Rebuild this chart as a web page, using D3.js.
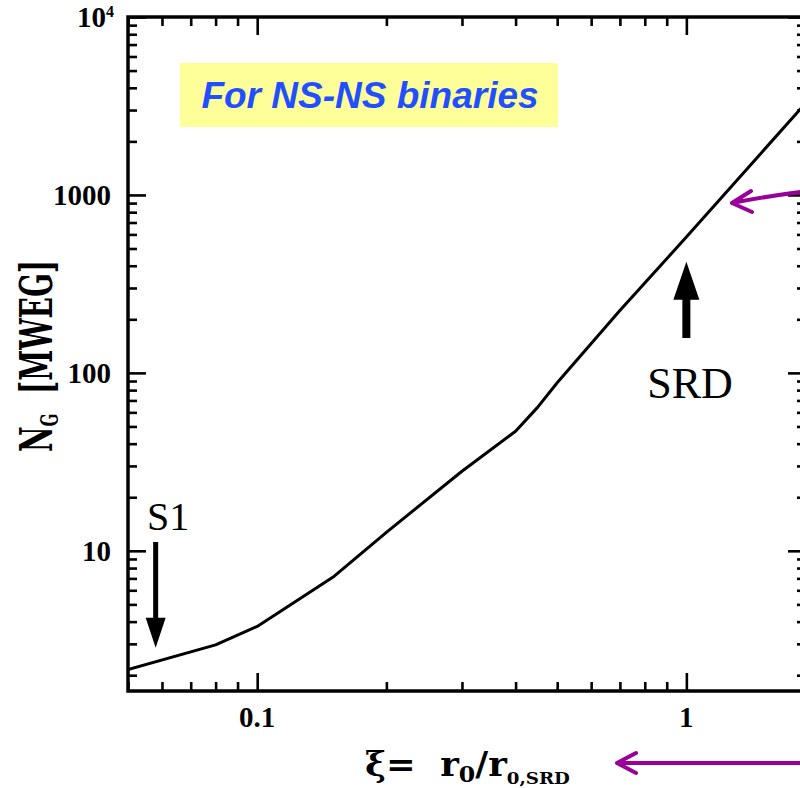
<!DOCTYPE html>
<html>
<head>
<meta charset="utf-8">
<script src="https://cdn.jsdelivr.net/npm/d3@7"></script>
<style>
  body { margin: 0; background: #fff; }
  svg { display: block; }
</style>
</head>
<body>
<div id="canvas"></div>
<script>
"use strict"

/* Data */
let xiValues = [0.05, 0.08, 0.1, 0.15, 0.2, 0.3, 0.4, 0.45, 0.5, 0.7, 1, 1.5, 1.9];
let ngValues = [2.15, 2.96, 3.76, 7.1, 12.7, 28, 47, 64, 88, 224, 580, 1740, 3300];
let xTickValues = [0.1, 1];
let xTickLabels = ["0.1", "1"];
let yTickValues = [10, 100, 1000, 10000];
let yTickLabels = ["10", "100", "1000", "10"];

/* Configuration: drawing */
let svgWidth = 800;
let svgHeight = 788;
let plotLeft = 128, plotRight = 806, plotTop = 17, plotBottom = 691;
let majorLen = 18, minorLen = 9;

let svg = d3.select("#canvas")
    .append("svg")
    .attr("width", svgWidth)
    .attr("height", svgHeight);

let xScale = d3.scaleLog()
    .domain([0.05, 1.9])
    .range([plotLeft, plotRight]);

let yScale = d3.scaleLog()
    .domain([1.63, 10000])
    .range([plotBottom, plotTop]);

let xMinor = xScale.ticks().filter(d => xTickValues.indexOf(d) < 0);
let yMinor = yScale.ticks().filter(d => yTickValues.indexOf(d) < 0);

/* Ticks on all four sides, pointing inward */
function drawTicks(axis, tx, ty) {
    svg.append("g")
        .attr("transform", "translate(" + tx + "," + ty + ")")
        .call(axis.tickFormat(""))
        .call(g => g.select(".domain").remove())
        .call(g => g.selectAll("line").attr("stroke", "black").attr("stroke-width", 2.6));
}

drawTicks(d3.axisTop(xScale).tickValues(xTickValues).tickSize(majorLen), 0, plotBottom);
drawTicks(d3.axisTop(xScale).tickValues(xMinor).tickSize(minorLen), 0, plotBottom);
drawTicks(d3.axisBottom(xScale).tickValues(xTickValues).tickSize(majorLen), 0, plotTop);
drawTicks(d3.axisBottom(xScale).tickValues(xMinor).tickSize(minorLen), 0, plotTop);
drawTicks(d3.axisRight(yScale).tickValues(yTickValues).tickSize(majorLen), plotLeft, 0);
drawTicks(d3.axisRight(yScale).tickValues(yMinor).tickSize(minorLen), plotLeft, 0);
drawTicks(d3.axisLeft(yScale).tickValues(yTickValues).tickSize(majorLen), plotRight, 0);
drawTicks(d3.axisLeft(yScale).tickValues(yMinor).tickSize(minorLen), plotRight, 0);

/* Frame */
svg.append("rect")
    .attr("x", plotLeft)
    .attr("y", plotTop)
    .attr("width", plotRight - plotLeft)
    .attr("height", plotBottom - plotTop)
    .attr("fill", "none")
    .attr("stroke", "black")
    .attr("stroke-width", 3.5);

/* Curve */
svg.append("clipPath")
    .attr("id", "plotclip")
    .append("rect")
    .attr("x", plotLeft).attr("y", plotTop)
    .attr("width", plotRight - plotLeft).attr("height", plotBottom - plotTop);

let line = d3.line()
    .x((d, i) => xScale(xiValues[i]))
    .y(d => yScale(d));

svg.append("path")
    .datum(ngValues)
    .attr("clip-path", "url(#plotclip)")
    .attr("d", line)
    .attr("fill", "none")
    .attr("stroke", "black")
    .attr("stroke-width", 3)
    .attr("stroke-linejoin", "round");

/* Tick labels */
let tickFont = "'Liberation Serif', 'Times New Roman', serif";

svg.selectAll(".xlab")
    .data(xTickValues)
    .join("text")
    .attr("x", d => xScale(d))
    .attr("y", 727)
    .attr("text-anchor", "middle")
    .attr("font-family", tickFont)
    .attr("font-weight", "bold")
    .attr("font-size", 29)
    .text((d, i) => xTickLabels[i]);

let yLabs = svg.selectAll(".ylab")
    .data(yTickValues)
    .join("text")
    .attr("x", (d, i) => i === 3 ? 114 : 111)
    .attr("y", d => yScale(d) + 10)
    .attr("text-anchor", "end")
    .attr("font-family", tickFont)
    .attr("font-weight", "bold")
    .attr("font-size", 29)
    .text((d, i) => yTickLabels[i]);

// superscript on 10^4
yLabs.filter((d, i) => i === 3)
    .append("tspan")
    .attr("font-size", 16)
    .attr("dy", -10)
    .text("4");

/* Axis titles */
let titleFont = "'DejaVu Serif', serif";

let yTitle = svg.append("text")
    .attr("text-anchor", "middle")
    .attr("font-family", titleFont)
    .attr("font-weight", "bold")
    .attr("font-size", 44);
yTitle.append("tspan").text("N");
yTitle.append("tspan").attr("font-size", 24).attr("dy", 6).text("G");
yTitle.append("tspan").attr("dy", -6).text("\u00a0\u00a0[MWEG]");
let yw = yTitle.node().getComputedTextLength();
yTitle.attr("transform", "translate(52,356) rotate(-90) scale(" + (192 / yw) + ",1)");

let xTitle = svg.append("text")
    .attr("font-family", titleFont)
    .attr("font-weight", "bold")
    .attr("font-size", 33);
xTitle.append("tspan").text("\u03be=\u00a0\u00a0r");
xTitle.append("tspan").attr("font-size", 22).attr("dy", 6).text("0");
xTitle.append("tspan").attr("dy", -6).text("/r");
xTitle.append("tspan").attr("font-size", 17).attr("dy", 8).text("0,SRD");
let xw = xTitle.node().getComputedTextLength();
xTitle.attr("transform", "translate(365,776) scale(" + (205 / xw) + ",1)");

/* Annotation arrows (S1, SRD) */
function blockArrow(xv, yTail, yTip, shaftW, headW, headL) {
    let cx = xScale(xv);
    let y0 = yScale(yTail), y1 = yScale(yTip);
    let dir = y1 > y0 ? 1 : -1;
    let yb = y1 - dir * headL;
    svg.append("path")
        .attr("d", "M" + (cx - shaftW / 2) + "," + y0 +
            "L" + (cx - shaftW / 2) + "," + yb +
            "L" + (cx - headW / 2) + "," + yb +
            "L" + cx + "," + y1 +
            "L" + (cx + headW / 2) + "," + yb +
            "L" + (cx + shaftW / 2) + "," + yb +
            "L" + (cx + shaftW / 2) + "," + y0 + "Z")
        .attr("fill", "black");
}

blockArrow(0.058, 11.2, 2.85, 5, 20, 30);
blockArrow(1, 157, 421, 8, 26, 38);

svg.append("text")
    .attr("x", 147)
    .attr("y", 530)
    .attr("font-family", tickFont)
    .attr("font-size", 40)
    .text("S1");

svg.append("text")
    .attr("x", 690)
    .attr("y", 398)
    .attr("text-anchor", "middle")
    .attr("font-family", tickFont)
    .attr("font-size", 44)
    .text("SRD");

/* Yellow note box */
svg.append("rect")
    .attr("x", 180)
    .attr("y", 63)
    .attr("width", 378)
    .attr("height", 64)
    .attr("fill", "#ffff99");

svg.append("text")
    .attr("x", 370)
    .attr("y", 108)
    .attr("text-anchor", "middle")
    .attr("font-family", "'Liberation Sans', Arial, sans-serif")
    .attr("font-weight", "bold")
    .attr("font-style", "italic")
    .attr("font-size", 37)
    .attr("fill", "#1f4fff")
    .text("For NS-NS binaries");

/* Purple pointer arrows */
let purple = "#990099";
svg.append("path")
    .attr("d", "M801,192 Q768,196 732,203 M751,191 L732,203 L752,212")
    .attr("fill", "none")
    .attr("stroke", purple)
    .attr("stroke-width", 4)
    .attr("stroke-linecap", "round")
    .attr("stroke-linejoin", "round");

svg.append("path")
    .attr("d", "M801,763 L617,763 M636,753 L617,763 L636,773")
    .attr("fill", "none")
    .attr("stroke", purple)
    .attr("stroke-width", 4)
    .attr("stroke-linecap", "round")
    .attr("stroke-linejoin", "round");
</script>
</body>
</html>
